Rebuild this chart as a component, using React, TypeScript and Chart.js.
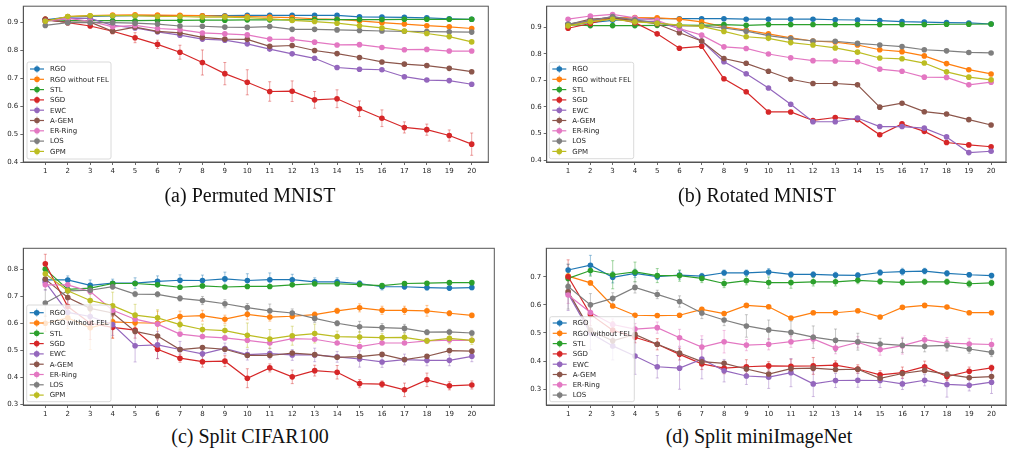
import React, { useEffect, useRef } from "react";
import { Chart, registerables } from "chart.js";

Chart.register(...registerables);

// ---------------- data ----------------
const X_TICKS = [1, 2, 3, 4, 5, 6, 7, 8, 9, 10, 11, 12, 13, 14, 15, 16, 17, 18, 19, 20];
const NAMES = ["RGO", "RGO without FEL", "STL", "SGD", "EWC", "A-GEM", "ER-Ring", "LOS", "GPM"];
const COLORS = ["#1f77b4", "#ff7f0e", "#2ca02c", "#d62728", "#9467bd", "#8c564b", "#e377c2", "#7f7f7f", "#bcbd22"];

const Y_TICKS_A = [0.4, 0.5, 0.6, 0.7, 0.8, 0.9];
const Y_TICKS_B = [0.4, 0.5, 0.6, 0.7, 0.8, 0.9];
const Y_TICKS_C = [0.3, 0.4, 0.5, 0.6, 0.7, 0.8];
const Y_TICKS_D = [0.3, 0.4, 0.5, 0.6, 0.7];

const CAPTIONS = ["(a) Permuted MNIST", "(b) Rotated MNIST", "(c) Split CIFAR100", "(d) Split miniImageNet"];

// (a) Permuted MNIST
const A_RGO = [0.910, 0.920, 0.922, 0.924, 0.925, 0.925, 0.925, 0.925, 0.925, 0.926, 0.926, 0.926, 0.926, 0.926, 0.921, 0.920, 0.919, 0.917, 0.914, 0.912];
const A_RGO_NOFEL = [0.905, 0.922, 0.925, 0.927, 0.928, 0.927, 0.926, 0.925, 0.923, 0.922, 0.920, 0.918, 0.914, 0.912, 0.906, 0.900, 0.895, 0.889, 0.885, 0.879];
const A_STL = [0.912, 0.908, 0.907, 0.907, 0.907, 0.908, 0.908, 0.909, 0.909, 0.910, 0.910, 0.910, 0.911, 0.911, 0.911, 0.911, 0.912, 0.912, 0.912, 0.912];
const A_SGD = [0.912, 0.900, 0.888, 0.869, 0.846, 0.822, 0.794, 0.757, 0.717, 0.686, 0.653, 0.654, 0.623, 0.627, 0.591, 0.557, 0.524, 0.516, 0.495, 0.464];
const A_EWC = [0.905, 0.915, 0.915, 0.890, 0.881, 0.867, 0.855, 0.841, 0.837, 0.824, 0.805, 0.788, 0.772, 0.739, 0.733, 0.731, 0.706, 0.694, 0.692, 0.679];
const A_AGEM = [0.909, 0.902, 0.902, 0.869, 0.884, 0.869, 0.863, 0.847, 0.841, 0.840, 0.815, 0.818, 0.800, 0.789, 0.775, 0.759, 0.751, 0.746, 0.736, 0.724];
const A_ER = [0.905, 0.915, 0.905, 0.885, 0.890, 0.879, 0.875, 0.863, 0.860, 0.856, 0.841, 0.840, 0.830, 0.820, 0.821, 0.811, 0.803, 0.804, 0.798, 0.798];
const A_LOS = [0.890, 0.900, 0.900, 0.900, 0.898, 0.895, 0.888, 0.887, 0.884, 0.883, 0.886, 0.876, 0.876, 0.874, 0.872, 0.870, 0.869, 0.868, 0.867, 0.866];
const A_GPM = [0.905, 0.922, 0.925, 0.925, 0.925, 0.922, 0.922, 0.920, 0.920, 0.918, 0.914, 0.908, 0.904, 0.898, 0.889, 0.881, 0.870, 0.861, 0.850, 0.831];
const A_SGD_ERR = [0.010, 0.008, 0.008, 0.010, 0.018, 0.015, 0.025, 0.045, 0.040, 0.045, 0.035, 0.037, 0.030, 0.032, 0.028, 0.030, 0.020, 0.020, 0.020, 0.040];

// (b) Rotated MNIST
const B_RGO = [0.910, 0.917, 0.926, 0.930, 0.932, 0.932, 0.932, 0.932, 0.930, 0.930, 0.930, 0.930, 0.928, 0.927, 0.925, 0.921, 0.919, 0.917, 0.916, 0.912];
const B_RGO_NOFEL = [0.905, 0.922, 0.935, 0.936, 0.935, 0.930, 0.920, 0.901, 0.889, 0.875, 0.860, 0.848, 0.844, 0.833, 0.815, 0.808, 0.792, 0.763, 0.740, 0.724];
const B_STL = [0.910, 0.906, 0.906, 0.906, 0.907, 0.908, 0.907, 0.910, 0.907, 0.910, 0.910, 0.910, 0.910, 0.910, 0.910, 0.910, 0.910, 0.911, 0.911, 0.912];
const B_SGD = [0.896, 0.914, 0.935, 0.917, 0.875, 0.821, 0.828, 0.706, 0.657, 0.581, 0.581, 0.549, 0.560, 0.552, 0.495, 0.536, 0.508, 0.466, 0.457, 0.450];
const B_EWC = [0.910, 0.925, 0.940, 0.925, 0.920, 0.895, 0.848, 0.770, 0.725, 0.671, 0.610, 0.544, 0.544, 0.558, 0.526, 0.526, 0.520, 0.487, 0.428, 0.433];
const B_AGEM = [0.910, 0.930, 0.935, 0.925, 0.912, 0.879, 0.848, 0.782, 0.764, 0.734, 0.704, 0.688, 0.688, 0.683, 0.599, 0.614, 0.582, 0.573, 0.552, 0.532];
const B_ER = [0.930, 0.942, 0.948, 0.935, 0.926, 0.895, 0.870, 0.826, 0.820, 0.799, 0.785, 0.774, 0.773, 0.770, 0.742, 0.734, 0.712, 0.711, 0.683, 0.693];
const B_LOS = [0.912, 0.925, 0.940, 0.928, 0.915, 0.905, 0.905, 0.897, 0.885, 0.868, 0.857, 0.848, 0.847, 0.839, 0.833, 0.827, 0.815, 0.811, 0.805, 0.803];
const B_GPM = [0.905, 0.920, 0.930, 0.920, 0.915, 0.908, 0.903, 0.884, 0.864, 0.858, 0.842, 0.833, 0.822, 0.806, 0.784, 0.781, 0.765, 0.732, 0.712, 0.702];

// (c) Split CIFAR100
const C_RGO = [0.760, 0.760, 0.740, 0.748, 0.748, 0.755, 0.759, 0.758, 0.764, 0.758, 0.761, 0.761, 0.753, 0.753, 0.747, 0.735, 0.735, 0.732, 0.730, 0.732];
const C_RGO_NOFEL = [0.600, 0.620, 0.583, 0.605, 0.602, 0.600, 0.625, 0.628, 0.615, 0.633, 0.623, 0.626, 0.632, 0.646, 0.657, 0.648, 0.648, 0.646, 0.637, 0.629];
const C_STL = [0.800, 0.725, 0.730, 0.747, 0.747, 0.742, 0.733, 0.738, 0.734, 0.736, 0.736, 0.742, 0.746, 0.746, 0.743, 0.739, 0.747, 0.748, 0.750, 0.750];
const C_SGD = [0.820, 0.662, 0.600, 0.585, 0.575, 0.504, 0.471, 0.458, 0.460, 0.397, 0.435, 0.402, 0.425, 0.419, 0.377, 0.375, 0.354, 0.391, 0.369, 0.372];
const C_EWC = [0.752, 0.640, 0.625, 0.595, 0.517, 0.520, 0.503, 0.487, 0.507, 0.484, 0.488, 0.483, 0.483, 0.476, 0.468, 0.457, 0.466, 0.463, 0.463, 0.478];
const C_AGEM = [0.763, 0.695, 0.655, 0.638, 0.570, 0.553, 0.503, 0.510, 0.504, 0.481, 0.481, 0.490, 0.484, 0.474, 0.477, 0.485, 0.466, 0.478, 0.499, 0.497];
const C_ER = [0.742, 0.742, 0.717, 0.648, 0.615, 0.597, 0.560, 0.551, 0.546, 0.537, 0.527, 0.543, 0.541, 0.527, 0.514, 0.527, 0.527, 0.535, 0.538, 0.537];
const C_LOS = [0.675, 0.720, 0.722, 0.735, 0.708, 0.707, 0.692, 0.684, 0.672, 0.658, 0.646, 0.638, 0.618, 0.600, 0.587, 0.584, 0.581, 0.567, 0.568, 0.564];
const C_GPM = [0.783, 0.720, 0.684, 0.665, 0.630, 0.620, 0.595, 0.577, 0.573, 0.556, 0.542, 0.554, 0.562, 0.551, 0.549, 0.547, 0.548, 0.535, 0.544, 0.537];
const C_RGO_ERR = [0.010, 0.015, 0.020, 0.015, 0.020, 0.020, 0.020, 0.020, 0.025, 0.025, 0.025, 0.020, 0.015, 0.015, 0.010, 0.012, 0.010, 0.010, 0.008, 0.008];
const C_RGO_NOFEL_ERR = [0.030, 0.040, 0.080, 0.060, 0.030, 0.045, 0.020, 0.020, 0.015, 0.020, 0.015, 0.010, 0.010, 0.010, 0.015, 0.015, 0.015, 0.020, 0.010, 0.008];
const C_SGD_ERR = [0.035, 0.060, 0.060, 0.040, 0.030, 0.035, 0.015, 0.020, 0.020, 0.035, 0.015, 0.025, 0.020, 0.025, 0.015, 0.012, 0.025, 0.025, 0.015, 0.015];
const C_EWC_ERR = [0.030, 0.050, 0.040, 0.040, 0.060, 0.050, 0.030, 0.020, 0.020, 0.020, 0.020, 0.020, 0.025, 0.020, 0.030, 0.020, 0.020, 0.020, 0.020, 0.020];
const C_LOS_ERR = [0.050, 0.020, 0.015, 0.010, 0.010, 0.010, 0.010, 0.015, 0.015, 0.015, 0.025, 0.015, 0.015, 0.010, 0.020, 0.015, 0.015, 0.010, 0.010, 0.010];
const C_GPM_ERR = [0.030, 0.030, 0.040, 0.050, 0.040, 0.030, 0.020, 0.020, 0.020, 0.045, 0.035, 0.035, 0.035, 0.020, 0.020, 0.015, 0.015, 0.010, 0.020, 0.015];

// (d) Split miniImageNet
const D_RGO = [0.724, 0.741, 0.698, 0.712, 0.700, 0.706, 0.702, 0.714, 0.714, 0.717, 0.708, 0.708, 0.706, 0.705, 0.715, 0.718, 0.720, 0.712, 0.707, 0.704];
const D_RGO_NOFEL = [0.702, 0.678, 0.596, 0.563, 0.562, 0.563, 0.584, 0.569, 0.598, 0.593, 0.553, 0.572, 0.572, 0.579, 0.557, 0.591, 0.598, 0.592, 0.572, 0.572];
const D_STL = [0.694, 0.722, 0.707, 0.717, 0.704, 0.704, 0.694, 0.676, 0.686, 0.679, 0.679, 0.682, 0.682, 0.687, 0.683, 0.680, 0.682, 0.682, 0.675, 0.678];
const D_SGD = [0.700, 0.566, 0.510, 0.485, 0.460, 0.424, 0.390, 0.375, 0.380, 0.383, 0.382, 0.383, 0.386, 0.372, 0.351, 0.359, 0.380, 0.345, 0.364, 0.376];
const D_EWC = [0.640, 0.500, 0.454, 0.418, 0.380, 0.375, 0.407, 0.366, 0.347, 0.343, 0.359, 0.319, 0.331, 0.332, 0.331, 0.319, 0.332, 0.317, 0.314, 0.325];
const D_AGEM = [0.647, 0.510, 0.472, 0.495, 0.460, 0.429, 0.398, 0.392, 0.372, 0.354, 0.373, 0.375, 0.370, 0.371, 0.339, 0.356, 0.367, 0.353, 0.341, 0.345];
const D_ER = [0.635, 0.573, 0.530, 0.514, 0.519, 0.483, 0.450, 0.469, 0.457, 0.460, 0.469, 0.479, 0.446, 0.467, 0.441, 0.455, 0.476, 0.464, 0.461, 0.459];
const D_LOS = [0.665, 0.600, 0.623, 0.662, 0.637, 0.612, 0.571, 0.546, 0.525, 0.511, 0.502, 0.485, 0.474, 0.469, 0.461, 0.456, 0.453, 0.456, 0.443, 0.431];
const D_RGO_ERR = [0.020, 0.035, 0.020, 0.015, 0.010, 0.015, 0.010, 0.010, 0.010, 0.012, 0.010, 0.010, 0.010, 0.010, 0.010, 0.012, 0.010, 0.010, 0.008, 0.008];
const D_STL_ERR = [0.020, 0.020, 0.050, 0.035, 0.025, 0.020, 0.015, 0.015, 0.015, 0.020, 0.020, 0.015, 0.015, 0.012, 0.010, 0.010, 0.010, 0.010, 0.012, 0.010];
const D_SGD_ERR = [0.060, 0.040, 0.030, 0.020, 0.020, 0.020, 0.020, 0.020, 0.025, 0.015, 0.025, 0.030, 0.015, 0.015, 0.015, 0.020, 0.020, 0.015, 0.015, 0.010];
const D_EWC_ERR = [0.060, 0.060, 0.050, 0.065, 0.040, 0.075, 0.070, 0.040, 0.030, 0.040, 0.050, 0.045, 0.025, 0.025, 0.025, 0.020, 0.020, 0.045, 0.020, 0.040];
const D_ER_ERR = [0.030, 0.030, 0.020, 0.020, 0.020, 0.030, 0.040, 0.040, 0.020, 0.020, 0.020, 0.015, 0.020, 0.020, 0.020, 0.030, 0.015, 0.020, 0.020, 0.020];
const D_LOS_ERR = [0.080, 0.040, 0.020, 0.020, 0.015, 0.020, 0.020, 0.020, 0.040, 0.035, 0.040, 0.040, 0.040, 0.030, 0.020, 0.025, 0.020, 0.020, 0.015, 0.015];

// ---------------- panel layout ----------------
type Panel = {
  left: number; top: number; width: number; height: number;
  area: { l: number; t: number; r: number; b: number };
  xMin: number; xMax: number; yMin: number; yMax: number; yTicks: number[];
  series: number[][]; errs: (number[] | null)[];
  legend: { x: number; y: number; w: number; h: number; first: number };
};

const PANELS: Panel[] = [
  {
    left: 0, top: 0, width: 505, height: 185,
    area: { l: 23.3, t: 4, r: 488.3, b: 162 },
    xMin: 0.02, xMax: 20.74, yMin: 0.4, yMax: 0.959, yTicks: Y_TICKS_A,
    series: [A_RGO, A_RGO_NOFEL, A_STL, A_SGD, A_EWC, A_AGEM, A_ER, A_LOS, A_GPM],
    errs: [null, null, null, A_SGD_ERR, null, null, null, null, null],
    legend: { x: 27, y: 62, w: 84, h: 97, first: 7 },
  },
  {
    left: 505, top: 0, width: 505, height: 185,
    area: { l: 41.7, t: 4, r: 504.3, b: 162 },
    xMin: 0.04, xMax: 20.67, yMin: 0.3926, yMax: 0.979, yTicks: Y_TICKS_B,
    series: [B_RGO, B_RGO_NOFEL, B_STL, B_SGD, B_EWC, B_AGEM, B_ER, B_LOS, B_GPM],
    errs: [null, null, null, null, null, null, null, null, null],
    legend: { x: 44.3, y: 62.3, w: 84.4, h: 96.4, first: 6.7 },
  },
  {
    left: 0, top: 230, width: 505, height: 195,
    area: { l: 23.3, t: 18.3, r: 494.3, b: 175 },
    xMin: 0.02, xMax: 21.0, yMin: 0.298, yMax: 0.877, yTicks: Y_TICKS_C,
    series: [C_RGO, C_RGO_NOFEL, C_STL, C_SGD, C_EWC, C_AGEM, C_ER, C_LOS, C_GPM],
    errs: [C_RGO_ERR, C_RGO_NOFEL_ERR, null, C_SGD_ERR, C_EWC_ERR, null, null, C_LOS_ERR, C_GPM_ERR],
    legend: { x: 26.7, y: 75, w: 84.3, h: 96.7, first: 7.7 },
  },
  {
    left: 505, top: 230, width: 505, height: 195,
    area: { l: 41.3, t: 18.3, r: 504, b: 175 },
    xMin: 0.02, xMax: 20.65, yMin: 0.244, yMax: 0.801, yTicks: Y_TICKS_D,
    series: [D_RGO, D_RGO_NOFEL, D_STL, D_SGD, D_EWC, D_AGEM, D_ER, D_LOS],
    errs: [D_RGO_ERR, null, D_STL_ERR, D_SGD_ERR, D_EWC_ERR, null, D_ER_ERR, D_LOS_ERR],
    legend: { x: 44.7, y: 86.7, w: 84.6, h: 85, first: 6.3 },
  },
];

const LEGEND_STEP = 10.3;

function hexToRgba(hex: string, a: number) {
  const n = parseInt(hex.slice(1), 16);
  return `rgba(${(n >> 16) & 255},${(n >> 8) & 255},${n & 255},${a})`;
}

function makeDecorPlugin(p: Panel) {
  return {
    id: "decor",
    beforeDatasetsDraw(chart: any) {
      const ctx = chart.ctx;
      const xs = chart.scales.x;
      const ys = chart.scales.y;
      const ca = chart.chartArea;
      ctx.save();
      ctx.beginPath();
      ctx.rect(ca.left, ca.top, ca.right - ca.left, ca.bottom - ca.top);
      ctx.clip();
      p.series.forEach((vals, si) => {
        const err = p.errs[si];
        if (!err) return;
        ctx.strokeStyle = hexToRgba(COLORS[si], 0.55);
        ctx.lineWidth = 0.8;
        vals.forEach((v, i) => {
          const px = xs.getPixelForValue(X_TICKS[i]);
          const y1 = ys.getPixelForValue(v - err[i]);
          const y2 = ys.getPixelForValue(v + err[i]);
          ctx.beginPath();
          ctx.moveTo(px, y1);
          ctx.lineTo(px, y2);
          ctx.moveTo(px - 1.5, y1);
          ctx.lineTo(px + 1.5, y1);
          ctx.moveTo(px - 1.5, y2);
          ctx.lineTo(px + 1.5, y2);
          ctx.stroke();
        });
      });
      ctx.restore();
    },
    afterDraw(chart: any) {
      const ctx = chart.ctx;
      const ca = chart.chartArea;
      ctx.save();
      // axes frame
      ctx.strokeStyle = "#555";
      ctx.lineWidth = 1;
      ctx.strokeRect(ca.left, ca.top, ca.right - ca.left, ca.bottom - ca.top);
      // legend
      const L = p.legend;
      const r = 2;
      ctx.beginPath();
      ctx.moveTo(L.x + r, L.y);
      ctx.lineTo(L.x + L.w - r, L.y);
      ctx.quadraticCurveTo(L.x + L.w, L.y, L.x + L.w, L.y + r);
      ctx.lineTo(L.x + L.w, L.y + L.h - r);
      ctx.quadraticCurveTo(L.x + L.w, L.y + L.h, L.x + L.w - r, L.y + L.h);
      ctx.lineTo(L.x + r, L.y + L.h);
      ctx.quadraticCurveTo(L.x, L.y + L.h, L.x, L.y + L.h - r);
      ctx.lineTo(L.x, L.y + r);
      ctx.quadraticCurveTo(L.x, L.y, L.x + r, L.y);
      ctx.closePath();
      ctx.fillStyle = "rgba(255,255,255,0.8)";
      ctx.fill();
      ctx.strokeStyle = "#d0d0d0";
      ctx.lineWidth = 0.8;
      ctx.stroke();
      ctx.font = "7px 'DejaVu Sans'";
      ctx.textBaseline = "middle";
      ctx.textAlign = "left";
      p.series.forEach((_, si) => {
        const cy = L.y + L.first + si * LEGEND_STEP;
        const col = COLORS[si];
        ctx.strokeStyle = col;
        ctx.lineWidth = 1.2;
        ctx.beginPath();
        ctx.moveTo(L.x + 3, cy);
        ctx.lineTo(L.x + 17, cy);
        ctx.stroke();
        ctx.strokeStyle = hexToRgba(col, 0.6);
        ctx.lineWidth = 0.8;
        ctx.beginPath();
        ctx.moveTo(L.x + 10, cy - 4);
        ctx.lineTo(L.x + 10, cy + 4);
        ctx.stroke();
        ctx.fillStyle = col;
        ctx.beginPath();
        ctx.arc(L.x + 10, cy, 2.8, 0, Math.PI * 2);
        ctx.fill();
        ctx.fillStyle = "#262626";
        ctx.fillText(NAMES[si], L.x + 23, cy + 0.5);
      });
      ctx.restore();
    },
  };
}

function PanelChart({ p }: { p: Panel }) {
  const ref = useRef<HTMLCanvasElement | null>(null);
  useEffect(() => {
    if (!ref.current) return;
    const n = p.series.length;
    const datasets = p.series.map((vals, si) => ({
      label: NAMES[si],
      data: vals.map((v, i) => ({ x: X_TICKS[i], y: v })),
      borderColor: COLORS[si],
      backgroundColor: COLORS[si],
      pointBackgroundColor: COLORS[si],
      pointBorderWidth: 0,
      pointRadius: 2.8,
      borderWidth: 1.2,
      tension: 0,
      order: n - si,
    }));
    const tickFont = { family: "'DejaVu Sans'", size: 7 };
    const chart = new Chart(ref.current, {
      type: "line",
      data: { datasets },
      plugins: [makeDecorPlugin(p)],
      options: {
        animation: false,
        responsive: false,
        devicePixelRatio: 1,
        layout: { padding: { left: 0, top: p.area.t, right: p.width - p.area.r, bottom: 0 } },
        plugins: { legend: { display: false }, tooltip: { enabled: false } },
        scales: {
          x: {
            type: "linear",
            min: p.xMin,
            max: p.xMax,
            afterBuildTicks: (s: any) => { s.ticks = X_TICKS.map((v) => ({ value: v })); },
            afterFit: (s: any) => { s.height = p.height - p.area.b; },
            ticks: { font: tickFont, color: "#262626", padding: 1.5, maxRotation: 0, autoSkip: false, callback: (v: any) => String(v) },
            grid: { display: true, drawOnChartArea: false, drawTicks: true, tickLength: 3, color: "#444", lineWidth: 0.8 },
            border: { display: true, color: "#555", width: 1 },
          },
          y: {
            type: "linear",
            min: p.yMin,
            max: p.yMax,
            afterBuildTicks: (s: any) => { s.ticks = p.yTicks.map((v) => ({ value: v })); },
            afterFit: (s: any) => { s.width = p.area.l; },
            ticks: { font: tickFont, color: "#262626", padding: 2, autoSkip: false, callback: (v: any) => Number(v).toFixed(1) },
            grid: { display: true, drawOnChartArea: false, drawTicks: true, tickLength: 3, color: "#444", lineWidth: 0.8 },
            border: { display: true, color: "#555", width: 1 },
          },
        },
      } as any,
    });
    return () => chart.destroy();
  }, [p]);
  return (
    <canvas
      ref={ref}
      width={p.width}
      height={p.height}
      style={{ position: "absolute", left: p.left, top: p.top, width: p.width, height: p.height }}
    />
  );
}

const CAPTION_POS = [
  { cx: 250, top: 185 },
  { cx: 757, top: 185 },
  { cx: 250, top: 426 },
  { cx: 759, top: 426 },
];

export default function App() {
  useEffect(() => {
    document.body.style.margin = "0";
  }, []);
  return (
    <div style={{ position: "fixed", left: 0, top: 0, width: 1010, height: 459, background: "#fff", overflow: "hidden" }}>
      {PANELS.map((p, i) => (
        <PanelChart key={i} p={p} />
      ))}
      {CAPTIONS.map((c, i) => (
        <div
          key={c}
          style={{
            position: "absolute",
            left: CAPTION_POS[i].cx - 200,
            top: CAPTION_POS[i].top,
            width: 400,
            textAlign: "center",
            fontFamily: "'Liberation Serif', serif",
            fontSize: 20,
            lineHeight: "20px",
            color: "#111",
            whiteSpace: "nowrap",
          }}
        >
          {c}
        </div>
      ))}
    </div>
  );
}
